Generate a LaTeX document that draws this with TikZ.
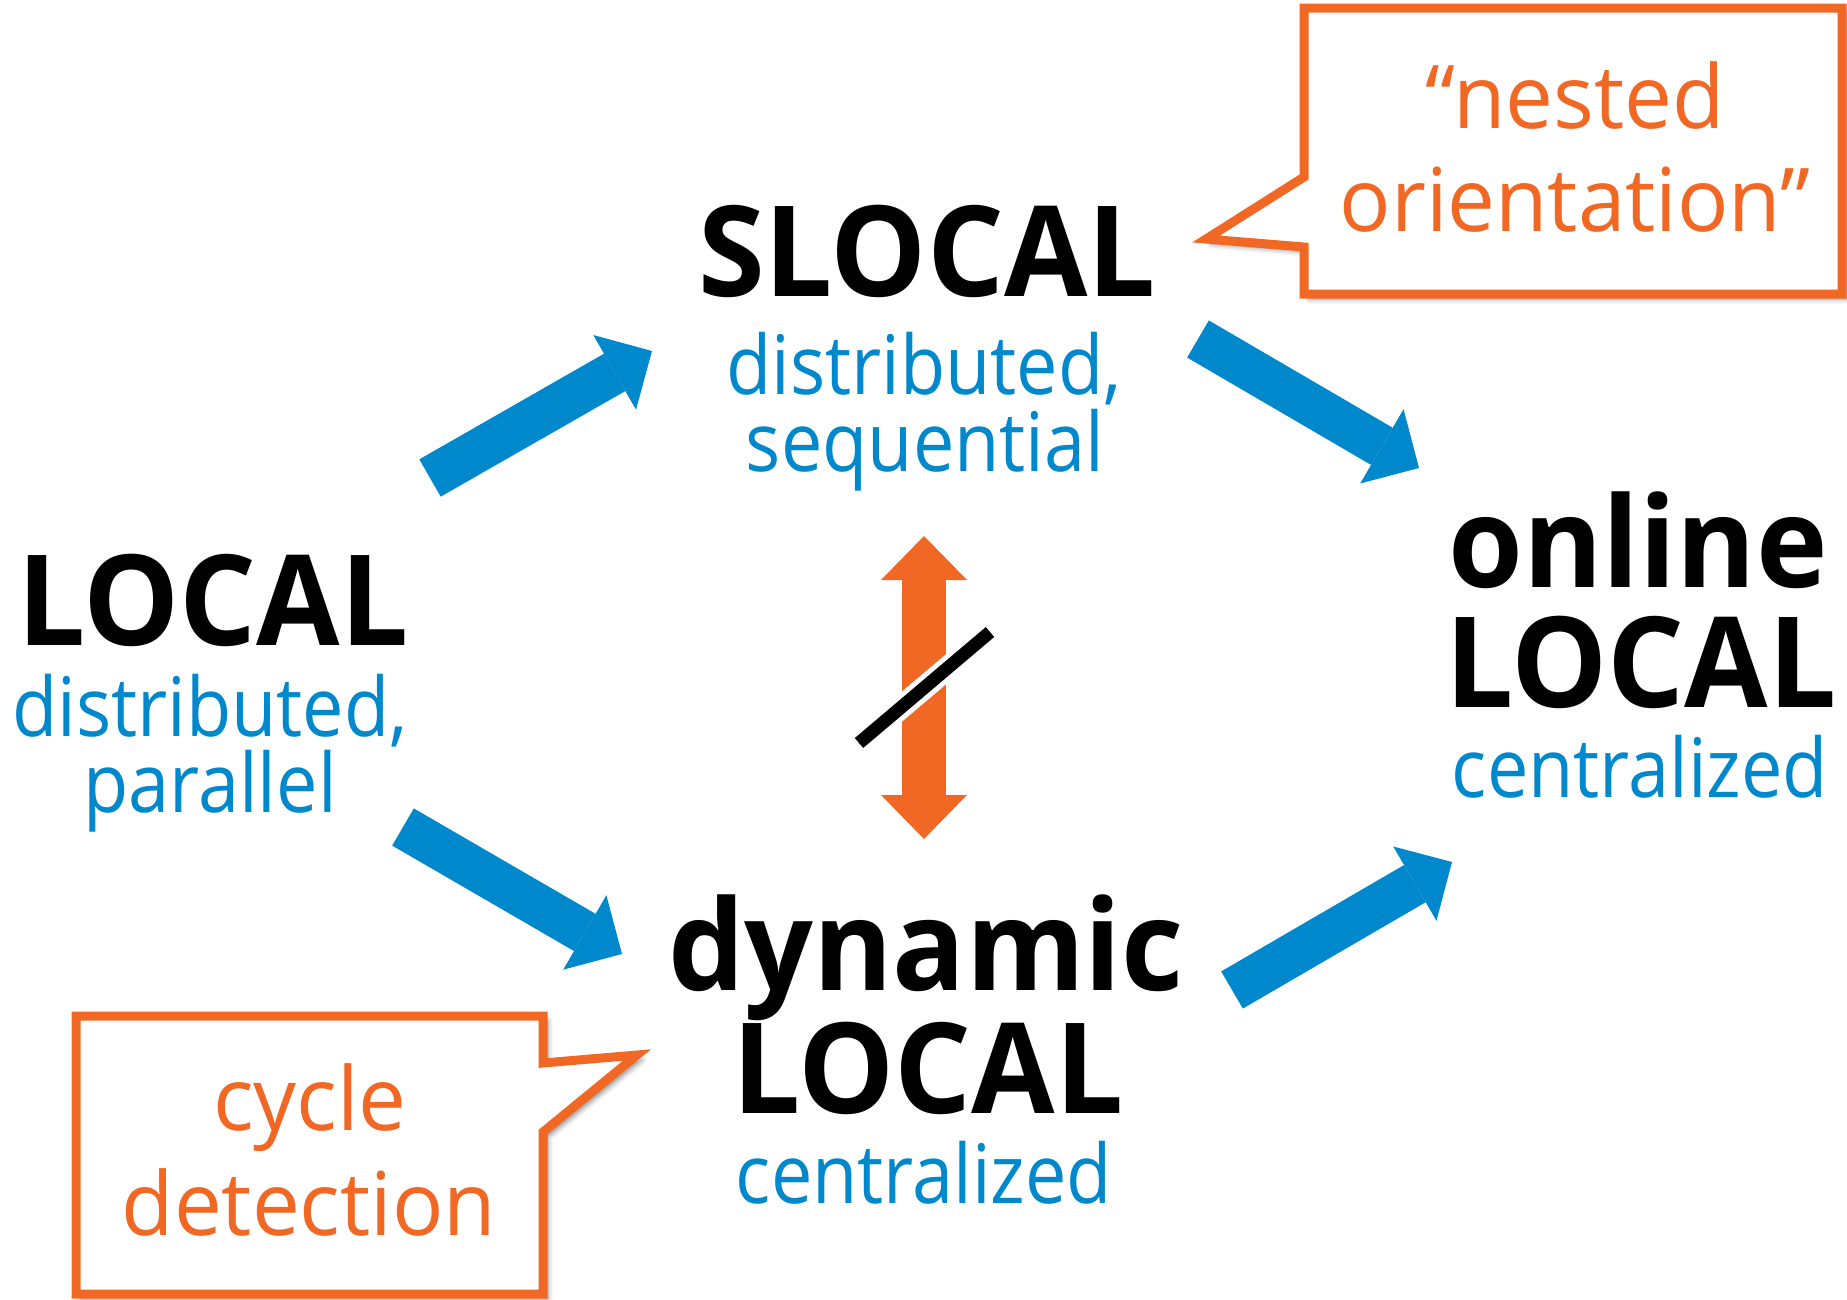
\documentclass[tikz,border=0pt]{standalone}
\usepackage{fontspec}
\setmainfont{Open Sans}
\newfontfamily\labelfont[FakeStretch=0.9]{Open Sans}
\newfontfamily\notefont[FakeStretch=0.97]{Open Sans}
\newfontfamily\headfont[FakeStretch=0.96]{Open Sans}
\usetikzlibrary{arrows.meta,shadows.blur}

\definecolor{flowblue}{RGB}{0,136,204}
\definecolor{noteorange}{RGB}{241,104,37}

\tikzset{
  model/.style={anchor=base, inner sep=0pt, text=black,
    font=\headfont\bfseries\fontsize{126}{126}\selectfont},
  kind/.style={anchor=base, inner sep=0pt, text=flowblue,
    font=\labelfont\fontsize{82}{82}\selectfont},
  notetext/.style={anchor=base, inner sep=0pt, text=noteorange,
    font=\notefont\fontsize{88}{88}\selectfont},
  flow/.style={draw=flowblue, line width=43pt,
    -{Triangle[length=43pt,width=86pt,line width=0pt]}},
  contrast/.style={draw=noteorange, line width=44pt,
    {Triangle[length=44pt,width=86pt,line width=0pt]}-{Triangle[length=44pt,width=86pt,line width=0pt]}},
  callout/.style={draw=noteorange, fill=white, line width=9pt, line join=miter,
    blur shadow={shadow xshift=5pt, shadow yshift=-5pt,
      shadow blur radius=5pt, shadow opacity=45}},
}

\begin{document}
\begin{tikzpicture}[x=1pt,y=-1pt]
  \useasboundingbox (0,0) rectangle (1847,1299);

  % LOCAL
  \node[model] (local)   at (213,645) {LOCAL};
  \node[kind]  (localA)  at (210,736) {distributed,};
  \node[kind]  (localB)  at (210,812) {parallel};

  % SLOCAL
  \node[model] (slocal)  at (927,296) {SLOCAL};
  \node[kind]  (slocalA) at (924,394) {distributed,};
  \node[kind]  (slocalB) at (925,471) {sequential};

  % online LOCAL
  \node[model] (online)  at (1638,587) {online};
  \node[model] (onlineB) at (1641,707) {LOCAL};
  \node[kind]  (onlineC) at (1640,797) {centralized};

  % dynamic LOCAL
  \node[model] (dyn)     at (926,990) {dynamic};
  \node[model] (dynB)    at (928,1113) {LOCAL};
  \node[kind]  (dynC)    at (924,1203) {centralized};

  % ends of the block arrows
  \coordinate (t1) at (430,478);  \coordinate (h1) at (652,351);
  \coordinate (t2) at (1198,339); \coordinate (h2) at (1419,468);
  \coordinate (t3) at (403,827);  \coordinate (h3) at (622,954);
  \coordinate (t4) at (1232,990); \coordinate (h4) at (1452,862);
  \draw[flow] (t1) -- (h1);
  \draw[flow] (t2) -- (h2);
  \draw[flow] (t3) -- (h3);
  \draw[flow] (t4) -- (h4);

  % incomparability between SLOCAL and dynamic LOCAL
  \coordinate (up)   at (924,536);
  \coordinate (down) at (924,839);
  \draw[contrast] (up) -- (down);
  \coordinate (s1) at (859,743);
  \coordinate (s2) at (990,632);
  \draw[white, line width=23pt] (s1) -- (s2);
  \draw[black, line width=13pt] (s1) -- (s2);

  % speech bubbles
  \draw[callout] (1304,8) -- (1842,8) -- (1842,294) -- (1304,294)
    -- (1304,247) -- (1206,239) -- (1304,177) -- cycle;
  \node[notetext] (nestA) at (1575,128) {“nested};
  \node[notetext] (nestB) at (1575,231) {orientation”};

  \draw[callout] (76,1016) -- (543,1016) -- (543,1063) -- (637,1055)
    -- (543,1132) -- (543,1294) -- (76,1294) -- cycle;
  \node[notetext] (cycA) at (310,1130) {cycle};
  \node[notetext] (cycB) at (309,1235) {detection};
\end{tikzpicture}
\end{document}
